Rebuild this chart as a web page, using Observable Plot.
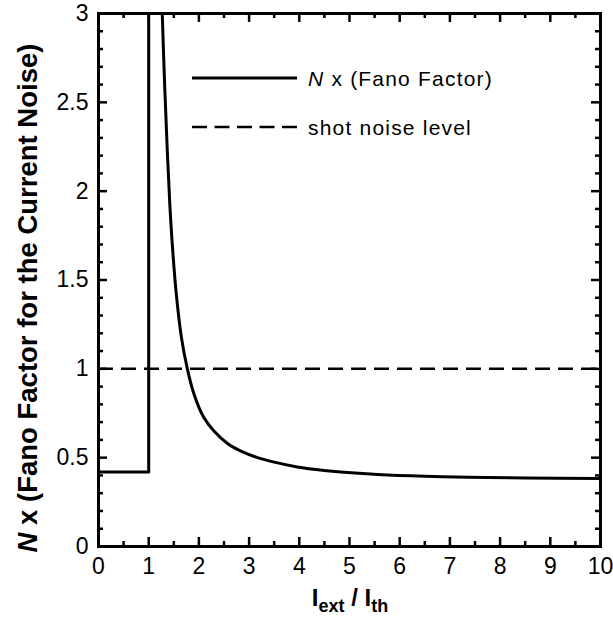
<!DOCTYPE html>
<html>
<head>
<meta charset="utf-8">
<script src="https://cdn.jsdelivr.net/npm/d3@7"></script>
<script src="https://cdn.jsdelivr.net/npm/@observablehq/plot@0.6"></script>
<style>
  html, body { margin: 0; padding: 0; background: #fff; }
  #chart { position: relative; width: 613px; height: 623px; }
  #chart svg { font-family: "Liberation Sans", Arial, Helvetica, sans-serif; }
</style>
</head>
<body>
<div id="chart"></div>
<script>
// Below threshold (I_ext / I_th < 1): flat level, then the jump at threshold
const belowX = [0, 1.0, 1.0];
const belowY = [0.42, 0.42, 3.4];

// Above threshold: N x (Fano factor) falling toward its asymptote
const aboveX = [1.24, 1.27, 1.32, 1.37, 1.42, 1.47, 1.55, 1.65, 1.77, 1.9, 2.09, 2.3, 2.57, 2.85, 3.17, 3.5, 3.96, 4.5, 4.96, 5.56, 6.5, 7.35, 8.5, 10.0];
const aboveY = [3.3, 3.0, 2.58, 2.23, 1.93, 1.70, 1.42, 1.18, 1.00, 0.86, 0.73, 0.65, 0.58, 0.535, 0.50, 0.475, 0.448, 0.428, 0.416, 0.405, 0.395, 0.39, 0.386, 0.383];

// Shot noise reference level
const shotNoise = [1];

// Axis tick values and labels
const xTickValues = [0, 1, 2, 3, 4, 5, 6, 7, 8, 9, 10];
const xTickLabels = ["0", "1", "2", "3", "4", "5", "6", "7", "8", "9", "10"];
const yTickValues = [0, 0.5, 1, 1.5, 2, 2.5, 3];
const yTickLabels = ["0", "0.5", "1", "1.5", "2", "2.5", "3"];

// Legend entries
const legendLabels = ["N x (Fano Factor)", "shot noise level"];

const W = 613, H = 623;
const mL = 98, mR = 13, mT = 13, mB = 77;
const fw = W - mL - mR, fh = H - mT - mB;

const below = belowX.map((x, i) => ({x, y: belowY[i]}));
const above = aboveX.map((x, i) => ({x, y: aboveY[i]}));
const xTicks = xTickValues.map((v, i) => ({v, label: xTickLabels[i]}));
const yTicks = yTickValues.map((v, i) => ({v, label: yTickLabels[i]}));

const xMinor = d3.range(0.5, 10, 1);
const yMinor = d3.range(1, 30).map(d => d / 10).filter(d => Math.abs(d * 2 - Math.round(d * 2)) > 1e-6);

const majLen = 9, minLen = 5;
const tickStyle = {stroke: "#000", strokeWidth: 2.5};

const svg = Plot.plot({
  width: W,
  height: H,
  marginLeft: mL,
  marginRight: mR,
  marginTop: mT,
  marginBottom: mB,
  x: {domain: [0, 10], axis: null},
  y: {domain: [0, 3], axis: null},
  marks: [
    Plot.ruleY(shotNoise, {y: d => d, stroke: "#000", strokeWidth: 2.5, strokeDasharray: "15,8"}),
    Plot.line(below, {x: "x", y: "y", stroke: "#000", strokeWidth: 3, clip: true}),
    Plot.line(above, {x: "x", y: "y", stroke: "#000", strokeWidth: 3, curve: "catmull-rom", clip: true}),

    // inward ticks on all four sides
    Plot.tickX(xTickValues, {x: d => d, insetTop: fh - majLen, ...tickStyle}),
    Plot.tickX(xTickValues, {x: d => d, insetBottom: fh - majLen, ...tickStyle}),
    Plot.tickX(xMinor, {x: d => d, insetTop: fh - minLen, ...tickStyle}),
    Plot.tickX(xMinor, {x: d => d, insetBottom: fh - minLen, ...tickStyle}),
    Plot.tickY(yTickValues, {y: d => d, insetRight: fw - majLen, ...tickStyle}),
    Plot.tickY(yTickValues, {y: d => d, insetLeft: fw - majLen, ...tickStyle}),
    Plot.tickY(yMinor, {y: d => d, insetRight: fw - minLen, ...tickStyle}),
    Plot.tickY(yMinor, {y: d => d, insetLeft: fw - minLen, ...tickStyle}),

    Plot.frame({stroke: "#000", strokeWidth: 3}),

    // tick labels
    Plot.text(xTicks, {x: "v", text: "label", frameAnchor: "bottom", dy: 27, fontSize: 23, fill: "#000"}),
    Plot.text(yTicks, {y: "v", text: "label", frameAnchor: "left", textAnchor: "end", dx: -10, fontSize: 23, fill: "#000"})
  ]
});

const root = d3.select(svg);

// y-axis title with italic N
const yTitle = root.append("text")
  .attr("transform", "translate(37,298) rotate(-90)")
  .attr("text-anchor", "middle")
  .attr("font-size", 27.5)
  .attr("font-weight", "bold")
  .attr("fill", "#000");
yTitle.append("tspan").attr("font-style", "italic").text("N");
yTitle.append("tspan").text(" x (Fano Factor for the Current Noise)");

// x-axis title: I_ext / I_th
const xTitle = root.append("text")
  .attr("x", 350)
  .attr("y", 606)
  .attr("text-anchor", "middle")
  .attr("font-size", 24)
  .attr("font-weight", "bold")
  .attr("fill", "#000");
xTitle.append("tspan").text("I");
xTitle.append("tspan").attr("font-size", 18).attr("dy", 6).text("ext");
xTitle.append("tspan").attr("dy", -6).text(" / I");
xTitle.append("tspan").attr("font-size", 18).attr("dy", 6).text("th");

// legend
const legend = root.append("g").attr("transform", "translate(192,78)");
const rows = [
  {label: legendLabels[0], dash: null},
  {label: legendLabels[1], dash: "15,7.5"}
];
rows.forEach((r, i) => {
  const g = legend.append("g").attr("transform", `translate(0,${i * 49})`);
  g.append("line")
    .attr("x1", 0).attr("x2", 105).attr("y1", 0).attr("y2", 0)
    .attr("stroke", "#000")
    .attr("stroke-width", i === 0 ? 3 : 2.5)
    .attr("stroke-dasharray", r.dash);
  const t = g.append("text")
    .attr("x", 116).attr("y", 7.5)
    .attr("text-anchor", "start")
    .attr("font-size", 21)
    .attr("letter-spacing", 1.2)
    .attr("fill", "#000");
  if (i === 0) {
    t.append("tspan").attr("font-style", "italic").text("N");
    t.append("tspan").text(r.label.slice(1));
  } else {
    t.text(r.label);
  }
});

document.getElementById("chart").appendChild(svg);
</script>
</body>
</html>
